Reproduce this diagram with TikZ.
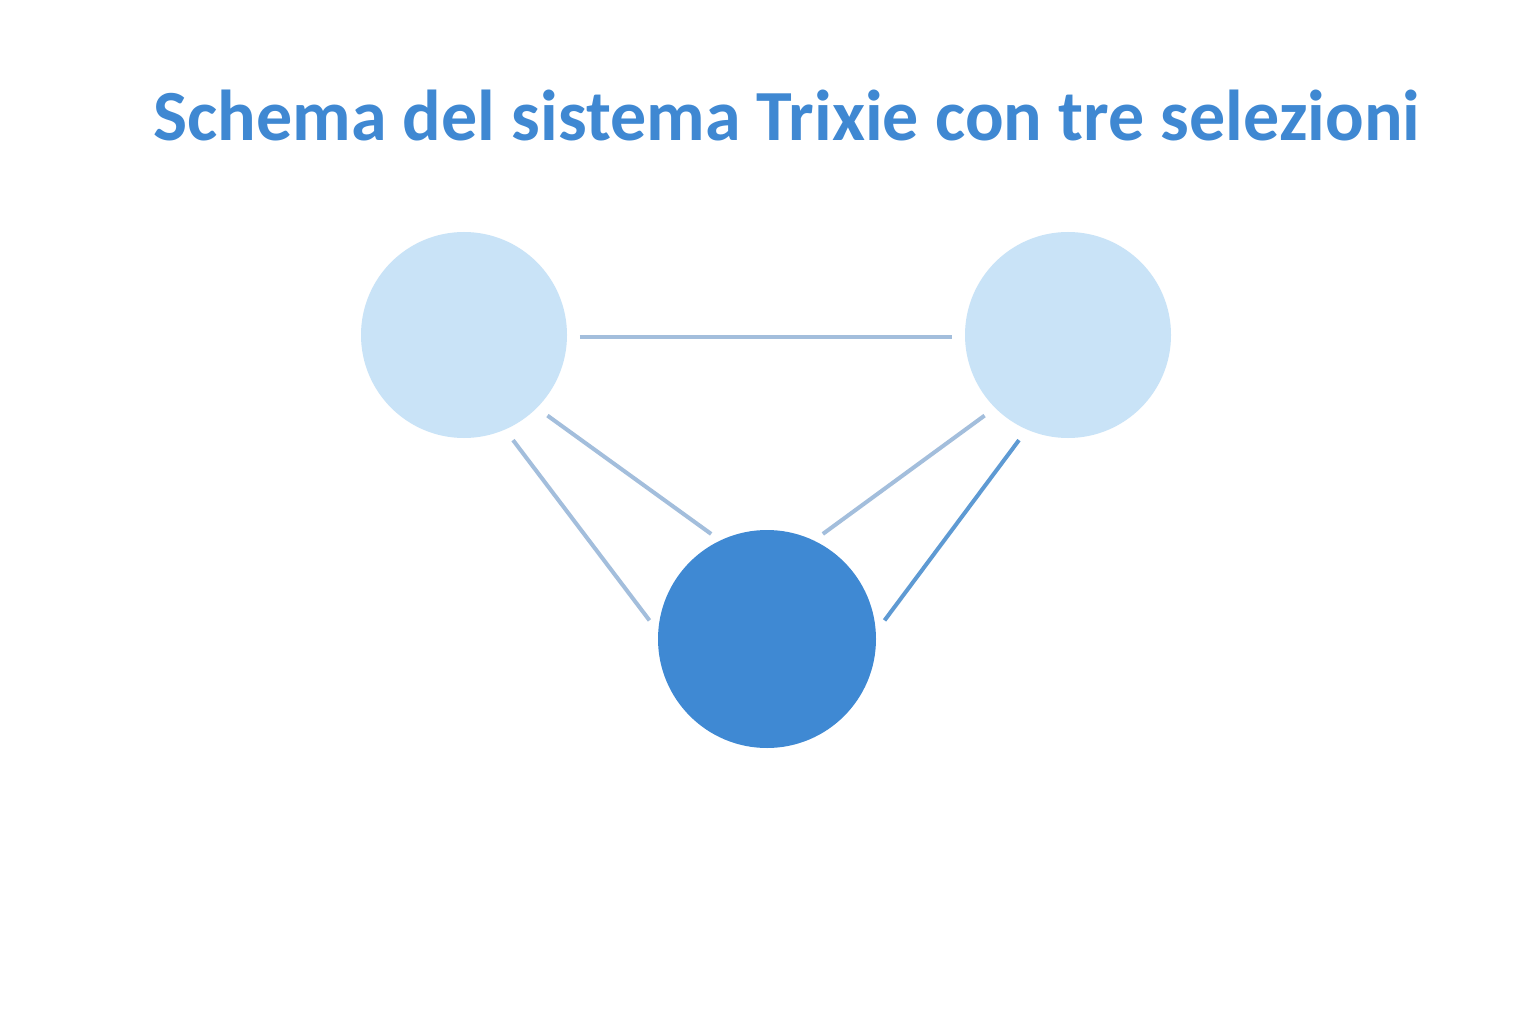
\documentclass[tikz,border=0pt]{standalone}
\usepackage{fontspec}
\setmainfont{Carlito}
\definecolor{titleblue}{HTML}{3F88D2}
\definecolor{lightfill}{HTML}{C9E3F7}
\definecolor{darkfill}{HTML}{3F89D3}
\definecolor{paleline}{HTML}{A3BEDC}
\definecolor{strongline}{HTML}{5E9AD3}
\begin{document}
\begin{tikzpicture}[x=1pt,y=-1pt,
  lightnode/.style={circle,fill=lightfill,draw=none,minimum size=206pt,inner sep=0pt,outer sep=13pt},
  darknode/.style={circle,fill=darkfill,draw=none,minimum size=218pt,inner sep=0pt,outer sep=10pt},
  link/.style={draw=paleline,line width=4pt},
  strong/.style={draw=strongline,line width=4pt}]
\useasboundingbox[fill=white] (0,0) rectangle (1536,1024);
\node[font=\bfseries\fontsize{72}{84}\selectfont,text=titleblue] (title) at (787,116) {Schema del sistema Trixie con tre selezioni};
\node[lightnode] (L) at (464,335) {};
\node[lightnode] (R) at (1068,335) {};
\node[darknode] (B) at (767,639) {};
\draw[link] (L.-1) -- (R.181);
\draw[link] (L.-44) -- (B.118);
\draw[link] (L.-65) -- (B.171);
\draw[link] (R.224) -- (B.62);
\draw[strong] (R.245) -- (B.9);
\end{tikzpicture}
\end{document}
